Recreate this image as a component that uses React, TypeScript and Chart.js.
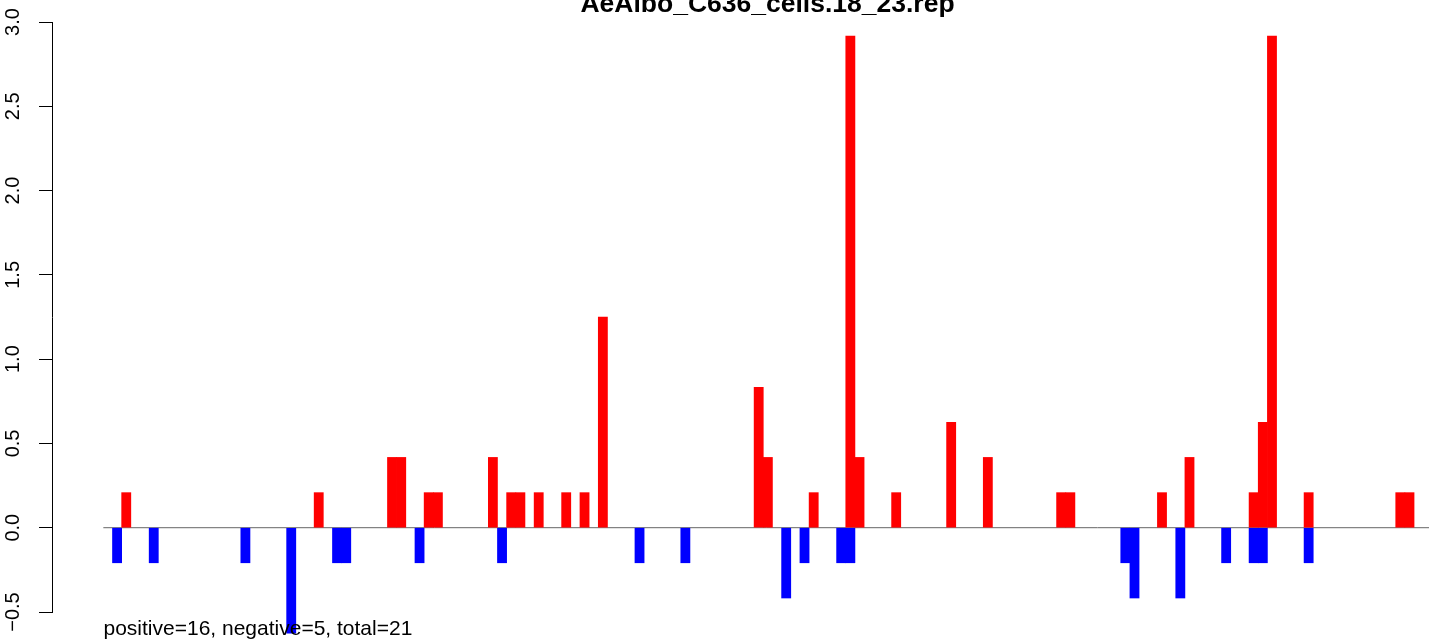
import { useEffect, useRef } from "react";
import { Chart, registerables } from "chart.js";

Chart.register(...registerables);

const TITLE = "AeAlbo_C636_cells.18_23.rep";
const FOOTNOTE = "positive=16, negative=5, total=21";

// bin index (0..142) of each red (positive) bar and its height
const positiveBins = [2, 23, 31, 32, 35, 36, 42, 44, 45, 47, 50, 52, 54, 71, 72, 77, 81, 82, 86, 92, 96, 104, 105, 115, 118, 125, 126, 127, 131, 141, 142];
const positiveValues = [0.208, 0.208, 0.417, 0.417, 0.208, 0.208, 0.417, 0.208, 0.208, 0.208, 0.208, 0.208, 1.25, 0.833, 0.417, 0.208, 2.917, 0.417, 0.208, 0.625, 0.417, 0.208, 0.208, 0.208, 0.417, 0.208, 0.625, 2.917, 0.208, 0.208, 0.208];

// bin index of each blue (negative) bar and its depth
const negativeBins = [1, 5, 15, 20, 25, 26, 34, 43, 58, 63, 74, 76, 80, 81, 111, 112, 117, 122, 125, 126, 131];
const negativeValues = [-0.208, -0.208, -0.208, -0.625, -0.208, -0.208, -0.208, -0.208, -0.208, -0.208, -0.417, -0.208, -0.208, -0.208, -0.208, -0.417, -0.417, -0.208, -0.208, -0.208, -0.208];

const yTicks = [-0.5, 0, 0.5, 1, 1.5, 2, 2.5, 3];

const X_MIN = -6.1;
const X_MAX = 144.13;
const BASELINE_START = -0.5;

const FONT = '"Liberation Sans", Arial, Helvetica, sans-serif';

export default function App() {
  const ref = useRef<HTMLCanvasElement>(null);

  useEffect(() => {
    const canvas = ref.current;
    if (!canvas) return;

    const textPlugin = {
      id: "rText",
      afterDraw(chart: any) {
        const ctx = chart.ctx;
        ctx.save();
        ctx.fillStyle = "#000";
        ctx.textBaseline = "alphabetic";
        ctx.font = `bold 26.5px ${FONT}`;
        ctx.textAlign = "center";
        ctx.fillText(TITLE, 767.5, 12);
        ctx.font = `21px ${FONT}`;
        ctx.textAlign = "left";
        ctx.fillText(FOOTNOTE, 103.5, 635);
        ctx.restore();
      },
    };

    const chart = new Chart(canvas, {
      type: "bar",
      data: {
        datasets: [
          {
            type: "line",
            data: [
              { x: BASELINE_START, y: 0 },
              { x: X_MAX, y: 0 },
            ],
            borderColor: "#666666",
            borderWidth: 1,
            pointRadius: 0,
            order: 10,
          } as any,
          {
            data: positiveBins.map((b, i) => ({ x: b, y: positiveValues[i] })),
            backgroundColor: "#FF0000",
            borderWidth: 0,
            barPercentage: 1,
            categoryPercentage: 1,
            grouped: false,
            clip: false,
            order: 1,
          } as any,
          {
            data: negativeBins.map((b, i) => ({ x: b, y: negativeValues[i] })),
            backgroundColor: "#0000FF",
            borderWidth: 0,
            barPercentage: 1,
            categoryPercentage: 1,
            grouped: false,
            clip: false,
            order: 1,
          } as any,
        ],
      },
      options: {
        responsive: false,
        animation: false,
        devicePixelRatio: 1,
        layout: { padding: { top: 22, bottom: 28, left: 0, right: 0 } },
        plugins: {
          legend: { display: false },
          tooltip: { enabled: false },
          title: { display: false },
        },
        scales: {
          x: {
            type: "linear",
            min: X_MIN,
            max: X_MAX,
            offset: false,
            grid: { offset: false },
            display: false,
            ticks: { stepSize: 25 },
          },
          y: {
            type: "linear",
            position: "left",
            min: -0.5,
            max: 3,
            afterFit: (s: any) => {
              s.width = 52;
            },
            afterBuildTicks: (s: any) => {
              s.ticks = yTicks.map((v) => ({ value: v }));
            },
            ticks: {
              minRotation: 90,
              maxRotation: 90,
              crossAlign: "center",
              padding: 6,
              color: "#000",
              font: { family: FONT, size: 20 },
              callback: (v: any) => Number(v).toFixed(1).replace("-", "\u2212"),
            },
            grid: {
              drawOnChartArea: false,
              drawTicks: true,
              tickLength: 13,
              color: "#000",
              lineWidth: 1,
            },
            border: { display: true, color: "#000", width: 1 },
          },
        },
      } as any,
      plugins: [textPlugin],
    });

    return () => chart.destroy();
  }, []);

  return (
    <canvas
      ref={ref}
      width={1429}
      height={640}
      style={{ position: "absolute", left: 0, top: 0, display: "block" }}
    />
  );
}
